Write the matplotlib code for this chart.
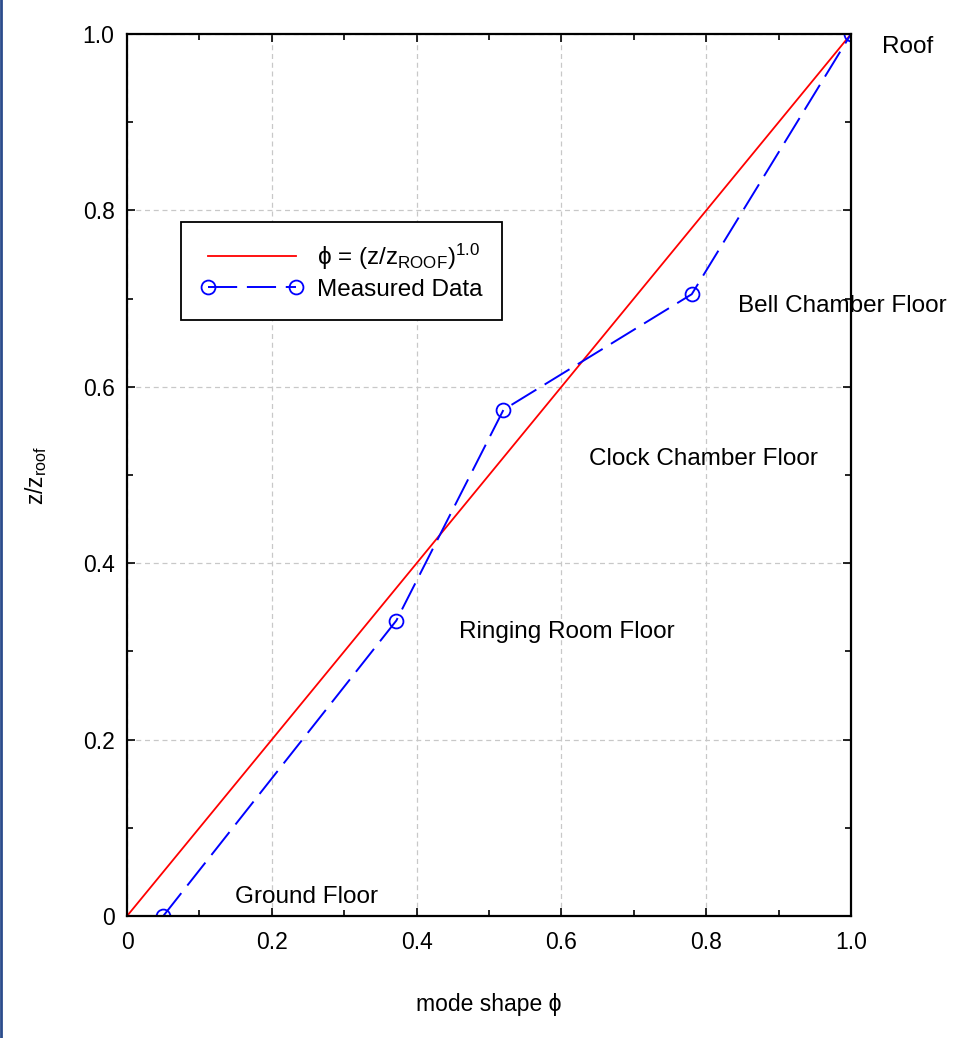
import numpy as np
import matplotlib
matplotlib.use('Agg')
import matplotlib.pyplot as plt
from matplotlib import font_manager
from matplotlib.lines import Line2D
from matplotlib.ticker import MultipleLocator

# prefer the narrow face when it is available, otherwise plain Liberation Sans
installed = {f.name for f in font_manager.fontManager.ttflist}
if 'Liberation Sans Narrow' in installed:
    base_font = 'Liberation Sans Narrow'
    label_size, tick_size = 20.5, 20
else:
    base_font = 'Liberation Sans'
    label_size, tick_size = 17.5, 16.5

plt.rcParams['font.family'] = [base_font, 'DejaVu Sans']
plt.rcParams['mathtext.fontset'] = 'custom'
plt.rcParams['mathtext.rm'] = base_font
plt.rcParams['mathtext.it'] = base_font

# Measured mode shape at each floor level
mode_shape = [0.05, 0.372, 0.52, 0.78, 1.0]
height_ratio = [0.0, 0.335, 0.574, 0.705, 1.0]

# Fitted power-law shape
exponent = 1.0
z_fit = np.linspace(0, 1, 101)
phi_fit = z_fit ** exponent

floor_names = ['Ground Floor', 'Ringing Room Floor', 'Clock Chamber Floor',
               'Bell Chamber Floor', 'Roof']
floor_label_x = [0.149, 0.459, 0.638, 0.844, 1.043]
floor_label_y = [0.022, 0.322, 0.518, 0.692, 0.985]

fig = plt.figure(figsize=(9.63, 10.38), dpi=100)
ax = fig.add_axes([0.1319, 0.1175, 0.7518, 0.8497])

ax.plot(phi_fit, z_fit, color='red', lw=1.3,
        label=r'ϕ = (z/z$_{\mathrm{ROOF}}$)$^{1.0}$')
ax.plot(mode_shape, height_ratio, color='blue', lw=1.4,
        dashes=(15, 5), marker='o', markersize=10, markerfacecolor='none',
        markeredgecolor='blue', markeredgewidth=1.3, label='Measured Data')

for name, tx, ty in zip(floor_names, floor_label_x, floor_label_y):
    ax.text(tx, ty, name, fontsize=label_size, ha='left', va='center',
            clip_on=False)

ax.set_xlim(0, 1)
ax.set_ylim(0, 1)
ax.xaxis.set_minor_locator(MultipleLocator(0.1))
ax.yaxis.set_minor_locator(MultipleLocator(0.1))
ax.set_xticks([0, 0.2, 0.4, 0.6, 0.8, 1.0])
ax.set_xticklabels(['0', '0.2', '0.4', '0.6', '0.8', '1.0'])
ax.set_yticks([0, 0.2, 0.4, 0.6, 0.8, 1.0])
ax.set_yticklabels(['0', '0.2', '0.4', '0.6', '0.8', '1.0'])

ax.tick_params(which='both', direction='in', top=True, right=True,
               labelsize=tick_size, width=1.2)
ax.tick_params(which='major', length=6)
ax.tick_params(which='minor', length=4)
ax.tick_params(axis='x', pad=11)
ax.tick_params(axis='y', pad=9)

ax.grid(True, which='major', color='#c8c8c8', linestyle=(0, (4, 3)), lw=0.9)
for sp in ax.spines.values():
    sp.set_linewidth(1.6)

ax.set_xlabel('mode shape ϕ', fontsize=tick_size, labelpad=28)
ax.set_ylabel(r'z/z$_{\mathrm{roof}}$', fontsize=tick_size, labelpad=24)

leg = ax.legend(loc='upper left', bbox_to_anchor=(0.075, 0.787),
                borderaxespad=0, fontsize=label_size, numpoints=2,
                handlelength=4.2, handletextpad=0.6, borderpad=0.8,
                labelspacing=0.3, fancybox=False, framealpha=1)
leg.get_frame().set_edgecolor('black')
leg.get_frame().set_linewidth(1.3)

# thin border line along the left edge of the page
fig.add_artist(Line2D([0.001, 0.001], [0, 1], color='#2b4c8c', lw=2,
                      transform=fig.transFigure))

fig.savefig('out.png', dpi=100)
